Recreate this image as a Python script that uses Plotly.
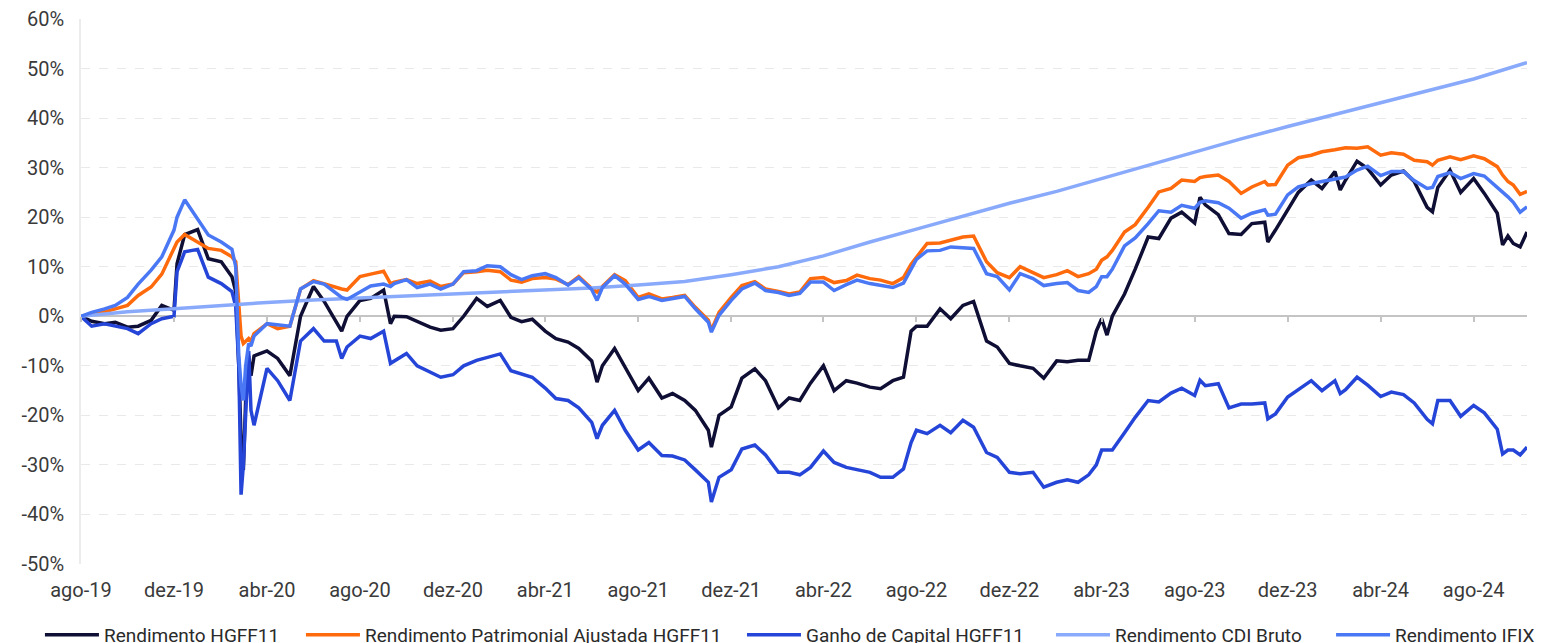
import plotly.graph_objects as go

# shared dates for the daily-ish series (~2 per month + spikes)
dates = [
    "2019-08-01", "2019-08-15", "2019-09-01", "2019-09-15", "2019-10-01", "2019-10-15",
    "2019-11-01", "2019-11-15", "2019-12-01", "2019-12-05", "2019-12-15",
    "2020-01-01", "2020-01-15", "2020-02-01", "2020-02-15", "2020-02-20", "2020-02-24",
    "2020-02-27", "2020-03-01", "2020-03-04", "2020-03-08", "2020-03-11", "2020-03-15",
    "2020-04-01", "2020-04-15", "2020-05-01", "2020-05-15", "2020-06-01", "2020-06-15",
    "2020-07-01", "2020-07-08", "2020-07-15", "2020-08-01", "2020-08-15", "2020-09-01",
    "2020-09-10", "2020-09-15", "2020-10-01", "2020-10-15", "2020-11-01", "2020-11-15",
    "2020-12-01", "2020-12-15",
    "2021-01-01", "2021-01-15", "2021-02-01", "2021-02-15", "2021-03-01", "2021-03-15",
    "2021-04-01", "2021-04-15", "2021-05-01", "2021-05-15", "2021-06-01", "2021-06-08",
    "2021-06-15", "2021-07-01", "2021-07-15", "2021-08-01", "2021-08-15", "2021-09-01",
    "2021-09-15", "2021-10-01", "2021-10-15", "2021-11-01", "2021-11-05", "2021-11-15",
    "2021-12-01", "2021-12-15",
    "2022-01-01", "2022-01-15", "2022-02-01", "2022-02-15", "2022-03-01", "2022-03-15",
    "2022-04-01", "2022-04-15", "2022-05-01", "2022-05-15", "2022-06-01", "2022-06-15",
    "2022-07-01", "2022-07-15", "2022-07-25", "2022-08-01", "2022-08-15", "2022-09-01",
    "2022-09-15", "2022-10-01", "2022-10-15", "2022-11-01", "2022-11-15", "2022-12-01",
    "2022-12-15",
    "2023-01-01", "2023-01-15", "2023-02-01", "2023-02-15", "2023-03-01", "2023-03-15",
    "2023-03-25", "2023-04-01", "2023-04-08", "2023-04-15", "2023-05-01", "2023-05-15",
    "2023-06-01", "2023-06-15", "2023-07-01", "2023-07-15", "2023-08-01", "2023-08-08",
    "2023-08-15", "2023-09-01", "2023-09-15", "2023-10-01", "2023-10-15", "2023-11-01",
    "2023-11-05", "2023-11-15", "2023-12-01", "2023-12-15",
    "2024-01-01", "2024-01-15", "2024-02-01", "2024-02-08", "2024-02-15", "2024-03-01",
    "2024-03-15", "2024-04-01", "2024-04-15", "2024-05-01", "2024-05-15", "2024-06-01",
    "2024-06-08", "2024-06-15", "2024-07-01", "2024-07-15", "2024-08-01", "2024-08-15",
    "2024-09-01", "2024-09-08", "2024-09-15", "2024-09-22", "2024-10-01", "2024-10-10",
]

# values in %
rend_hgff11 = [
    0, -1.0, -1.5, -1.2, -2.2, -2.0, -0.8, 2.2, 1.2, 10.6, 16.5,
    17.5, 11.6, 11.0, 8.0, 5.0, -10.0, -25.0, -31.0, -17.0, -8.0, -12.0, -8.0, -7.0, -8.5,
    -12.0, 0.0, 6.0, 3.0, -1.0, -3.0, 0.0, 3.2, 3.6, 5.3, -1.5, 0.0, -0.1, -1.0, -2.2,
    -2.8, -2.5, 0.0,
    3.6, 2.0, 3.2, -0.2, -1.1, -0.6, -3.0, -4.5, -5.2, -6.5, -9.0, -13.3, -10.0, -6.5,
    -10.2, -15.0, -12.5, -16.5, -15.6, -17.0, -19.0, -23.0, -26.4, -20.0, -18.3, -12.5,
    -10.6, -13.0, -18.5, -16.5, -17.0, -13.5, -10.0, -15.0, -13.0, -13.5, -14.3, -14.6,
    -13.0, -12.3, -3.0, -2.0, -2.0, 1.5, -0.5, 2.2, 3.0, -5.0, -6.2, -9.5, -10.0,
    -10.5, -12.5, -9.0, -9.2, -8.9, -8.9, -3.0, -0.5, -3.8, 0.0, 4.5, 9.5, 16.0, 15.7,
    19.8, 21.0, 18.8, 24.0, 22.5, 20.5, 16.7, 16.5, 18.7, 19.0, 15.0, 17.4, 21.5, 25.0,
    27.5, 25.8, 29.2, 25.5, 27.5, 31.3, 29.8, 26.5, 28.5, 29.3, 27.2, 22.0, 21.1, 26.0,
    29.5, 25.0, 27.8, 24.8, 20.8, 14.4, 16.2, 14.7, 14.0, 17.0,
]

rend_patrimonial = [
    0, 0.5, 0.9, 1.5, 2.2, 4.2, 5.9, 8.5, 13.5, 15.0, 16.5,
    15.0, 13.7, 13.3, 12.0, 11.0, 2.0, -4.0, -5.5, -5.0, -4.5, -5.0, -3.5, -1.5, -2.5,
    -2.0, 5.5, 7.2, 6.5, 5.8, 5.5, 5.3, 8.0, 8.5, 9.1, 6.6, 6.9, 7.4, 6.6, 7.1, 6.0,
    6.5, 8.8,
    9.0, 9.3, 9.0, 7.3, 6.9, 7.6, 7.8, 7.5, 6.4, 8.0, 5.6, 4.9, 6.0, 8.4, 7.2, 3.8, 4.5,
    3.5, 3.8, 4.2, 1.8, -0.8, -2.8, 0.8, 3.8, 6.2,
    7.0, 5.5, 5.0, 4.5, 4.9, 7.6, 7.8, 6.8, 7.2, 8.3, 7.6, 7.3, 6.6, 7.8, 10.5, 12.0,
    14.7, 14.8, 15.4, 16.0, 16.2, 11.0, 8.8, 7.8, 10.0,
    8.8, 7.8, 8.4, 9.2, 8.0, 8.6, 9.5, 11.3, 12.0, 13.3, 17.0, 18.5, 22.0, 25.1, 25.8,
    27.5, 27.2, 28.0, 28.2, 28.5, 27.2, 24.8, 26.1, 27.2, 26.5, 26.6, 30.5, 32.0,
    32.5, 33.2, 33.6, 33.8, 34.0, 33.9, 34.2, 32.5, 33.0, 32.7, 31.5, 31.2, 30.5, 31.5,
    32.2, 31.6, 32.4, 31.8, 30.2, 28.5, 27.2, 26.5, 24.6, 25.2,
]

ganho_capital = [
    0, -2.0, -1.5, -2.0, -2.5, -3.5, -1.5, -0.5, 0.0, 9.0, 13.0,
    13.5, 7.9, 6.6, 5.0, 2.0, -10.0, -36.0, -30.0, -20.0, -7.0, -19.0, -22.0, -10.5,
    -13.0, -17.0, -5.0, -2.5, -5.0, -5.0, -8.5, -6.2, -4.0, -4.5, -3.0, -9.5, -9.0, -7.5,
    -10.0, -11.3, -12.3, -11.8, -10.0,
    -8.9, -8.3, -7.6, -11.0, -11.6, -12.3, -14.5, -16.6, -17.0, -18.5, -21.4, -24.7,
    -22.0, -19.0, -23.0, -27.0, -25.5, -28.1, -28.2, -29.0, -31.0, -33.5, -37.5, -32.5,
    -31.0, -26.8,
    -26.0, -28.0, -31.5, -31.5, -32.0, -30.5, -27.2, -29.5, -30.5, -31.0, -31.5, -32.5,
    -32.5, -30.8, -25.5, -23.0, -23.7, -22.0, -23.5, -21.0, -22.4, -27.5, -28.5, -31.5,
    -31.8,
    -31.5, -34.5, -33.5, -33.0, -33.5, -32.0, -30.0, -27.0, -27.0, -27.0, -23.5, -20.4,
    -17.0, -17.3, -15.5, -14.5, -16.0, -12.9, -14.0, -13.6, -18.5, -17.7, -17.7, -17.5,
    -20.7, -19.7, -16.3, -14.8,
    -13.0, -15.0, -13.0, -15.6, -14.8, -12.3, -13.9, -16.2, -15.3, -15.8, -17.5, -20.8,
    -21.7, -17.0, -17.0, -20.2, -18.0, -19.5, -22.8, -27.8, -27.0, -27.0, -28.0, -26.4,
]

rend_ifix = [
    0, 0.8, 1.5, 2.2, 3.8, 6.5, 9.3, 12.0, 17.4, 20.0, 23.5,
    19.5, 16.4, 15.0, 13.5, 10.0, -8.0, -14.0, -17.0, -10.0, -5.5, -6.0, -4.0, -1.5,
    -1.8, -2.0, 5.5, 7.0, 6.5, 4.5, 3.8, 3.4, 4.9, 6.1, 6.5, 6.0, 6.6, 7.4, 5.8, 6.5,
    5.5, 6.5, 9.0,
    9.2, 10.2, 10.0, 8.4, 7.4, 8.2, 8.6, 7.8, 6.3, 7.8, 5.4, 3.2, 5.8, 8.2, 6.5, 3.4,
    4.0, 3.2, 3.6, 4.0, 1.5, -1.2, -3.2, 0.2, 3.2, 5.5,
    6.7, 5.2, 4.8, 4.2, 4.6, 6.9, 6.9, 5.2, 6.4, 7.3, 6.6, 6.2, 5.8, 6.7, 9.5, 11.5,
    13.2, 13.3, 14.0, 13.9, 13.7, 8.6, 8.0, 5.3, 8.6,
    7.6, 6.2, 6.6, 6.8, 5.2, 4.8, 6.0, 8.0, 8.0, 9.5, 14.2, 15.8, 18.7, 21.3, 21.0,
    22.4, 21.8, 23.0, 23.3, 22.9, 21.8, 19.8, 20.8, 21.5, 20.4, 20.6, 24.5, 26.1,
    26.8, 27.2, 27.8, 28.0, 28.1, 29.5, 30.3, 28.4, 29.2, 29.2, 27.4, 25.8, 26.0, 28.2,
    29.0, 27.8, 28.8, 28.3, 26.1, 25.0, 24.1, 23.0, 21.0, 22.1,
]

# CDI is smooth, so fewer points
cdi_dates = [
    "2019-08-01", "2019-10-01", "2019-12-01", "2020-02-01", "2020-04-01", "2020-06-01",
    "2020-08-01", "2020-10-01", "2020-12-01", "2021-02-01", "2021-04-01", "2021-06-01",
    "2021-08-01", "2021-10-01", "2021-12-01", "2022-02-01", "2022-04-01", "2022-06-01",
    "2022-08-01", "2022-10-01", "2022-12-01", "2023-02-01", "2023-04-01", "2023-06-01",
    "2023-08-01", "2023-10-01", "2023-12-01", "2024-02-01", "2024-04-01", "2024-06-01",
    "2024-08-01", "2024-10-10",
]
rend_cdi = [
    0.0, 0.9, 1.5, 2.2, 2.8, 3.3, 3.7, 4.1, 4.4, 4.8, 5.2, 5.7, 6.3, 7.0, 8.4, 10.0,
    12.2, 15.0, 17.6, 20.2, 22.8, 25.2, 27.8, 30.4, 33.2, 35.8, 38.3, 40.7, 43.1, 45.4,
    47.9, 51.2,
]

for s in (rend_hgff11, rend_patrimonial, ganho_capital, rend_ifix):
    assert len(s) == len(dates), (len(s), len(dates))

x_tick_vals = [
    "2019-08-01", "2019-12-01", "2020-04-01", "2020-08-01", "2020-12-01", "2021-04-01",
    "2021-08-01", "2021-12-01", "2022-04-01", "2022-08-01", "2022-12-01", "2023-04-01",
    "2023-08-01", "2023-12-01", "2024-04-01", "2024-08-01",
]
x_tick_labels = [
    "ago-19", "dez-19", "abr-20", "ago-20", "dez-20", "abr-21", "ago-21", "dez-21",
    "abr-22", "ago-22", "dez-22", "abr-23", "ago-23", "dez-23", "abr-24", "ago-24",
]
y_tick_vals = [-50, -40, -30, -20, -10, 0, 10, 20, 30, 40, 50, 60]
y_tick_labels = ["-50%", "-40%", "-30%", "-20%", "-10%", "0%", "10%", "20%", "30%",
                 "40%", "50%", "60%"]

series = [
    ("Rendimento HGFF11", dates, rend_hgff11, "#0f0e35"),
    ("Rendimento Patrimonial Ajustada HGFF11", dates, rend_patrimonial, "#ff6a0d"),
    ("Ganho de Capital HGFF11", dates, ganho_capital, "#2545d8"),
    ("Rendimento CDI Bruto", cdi_dates, rend_cdi, "#89a9fb"),
    ("Rendimento IFIX", dates, rend_ifix, "#4a78f5"),
]
# one legend box per entry so the entries sit where the reference has them
legend_x = [-0.0284, 0.1521, 0.4571, 0.6708, 0.8645]

fig = go.Figure()
for i, (name, xs, ys, col) in enumerate(series):
    fig.add_trace(go.Scatter(x=xs, y=ys, name=name, mode="lines",
                             line=dict(color=col, width=3.5),
                             legend="legend" if i == 0 else f"legend{i + 1}"))

# empty trace so the tick marks on the zero line get drawn
fig.add_trace(go.Scatter(x=[x_tick_vals[0]], y=[None], xaxis="x2", showlegend=False,
                         hoverinfo="skip", mode="lines"))

legends = {}
for i, lx in enumerate(legend_x):
    key = "legend" if i == 0 else f"legend{i + 1}"
    legends[key] = dict(orientation="h", x=lx, xanchor="left", y=-0.1303,
                        yanchor="middle", itemwidth=54,
                        font=dict(family="Roboto, sans-serif", size=19, color="#2a2a2a"),
                        bgcolor="rgba(0,0,0,0)")

x_range = ["2019-08-01", "2024-10-10"]
fig.update_layout(
    width=1541, height=643,
    paper_bgcolor="white", plot_bgcolor="white",
    font=dict(family="Roboto, sans-serif", size=20, color="#3a3a3a"),
    margin=dict(l=81, r=14, t=19, b=79, autoexpand=False),
    xaxis=dict(type="date", range=x_range, tickvals=x_tick_vals, ticktext=x_tick_labels,
               showgrid=False, showline=False, zeroline=False,
               ticks="outside", ticklen=8, tickcolor="rgba(0,0,0,0)"),
    xaxis2=dict(type="date", matches="x", overlaying="x", anchor="free",
                position=50 / 110, tickvals=x_tick_vals, showticklabels=False,
                showgrid=False, showline=False, zeroline=False,
                ticks="outside", ticklen=5, tickwidth=1.5, tickcolor="#c4c4c4"),
    yaxis=dict(range=[-50, 60], tickvals=y_tick_vals, ticktext=y_tick_labels,
               showgrid=True, gridcolor="#e9e9e9", griddash="dash", gridwidth=1,
               zeroline=True, zerolinecolor="#c4c4c4", zerolinewidth=2,
               showline=True, linecolor="#ececec", linewidth=1.5,
               ticks="outside", ticklen=11, tickcolor="rgba(0,0,0,0)"),
    showlegend=True,
    **legends,
)

# drop the default page margin so the figure sits at the window's top-left corner
fig.write_html("out.html", config={"displayModeBar": False},
               post_script="document.body.style.margin='0';")
